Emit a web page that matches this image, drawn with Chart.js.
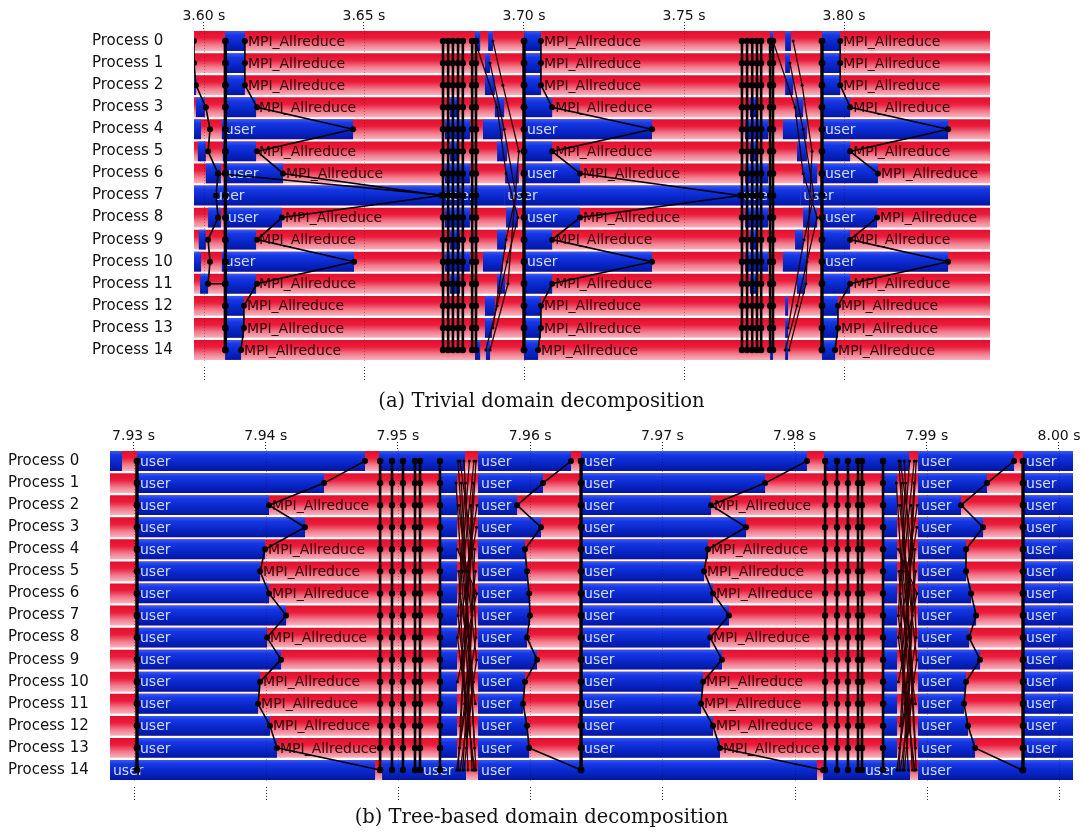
<!DOCTYPE html>
<html><head><meta charset="utf-8">
<script src="https://cdn.jsdelivr.net/npm/chart.js@4.4.1/dist/chart.umd.min.js"></script>
<style>
html,body{margin:0;padding:0;background:#fff;width:1083px;height:834px;overflow:hidden;}
canvas{position:absolute;left:0;}
.cap{position:absolute;left:0;width:1083px;text-align:center;font-family:'DejaVu Serif',serif;font-size:19.5px;color:#111;white-space:nowrap;}
</style></head><body>
<canvas id="chartA" width="1083" height="390" style="top:0"></canvas>
<canvas id="chartB" width="1083" height="390" style="top:420px"></canvas>
<div class="cap" style="top:389px">(a) Trivial domain decomposition</div>
<div class="cap" style="top:805px">(b) Tree-based domain decomposition</div>
<script>
// ---------- shared categories ----------
const processes = ['Process 0','Process 1','Process 2','Process 3','Process 4','Process 5','Process 6','Process 7',
  'Process 8','Process 9','Process 10','Process 11','Process 12','Process 13','Process 14'];

// ---------- panel (a): trivial domain decomposition ----------
const ticksA = [3.60, 3.65, 3.70, 3.75, 3.80];
const rangeA = [3.5969, 3.8456];
// "user" (blue) intervals per process; the remainder of each row is MPI (red)
const userA = [
  [[3.6066,3.6128],[3.6847,3.6863],[3.6888,3.6903],[3.7000,3.7053],[3.7769,3.7778],[3.7816,3.7834],[3.7931,3.7988]],
  [[3.6066,3.6128],[3.6878,3.6894],[3.7000,3.7053],[3.7816,3.7831],[3.7931,3.7988]],
  [[3.5969,3.5975],[3.6066,3.6128],[3.6878,3.6909],[3.7000,3.7053],[3.7816,3.7841],[3.7931,3.7988]],
  [[3.5975,3.6003],[3.6066,3.6163],[3.6769,3.6794],[3.6909,3.6938],[3.7000,3.7088],[3.7706,3.7728],[3.7847,3.7872],[3.7931,3.8019]],
  [[3.5969,3.5991],[3.6056,3.6466],[3.6753,3.6831],[3.6872,3.6934],[3.7000,3.7400],[3.7691,3.7763],[3.7809,3.7884],[3.7931,3.8325]],
  [[3.5981,3.6006],[3.6059,3.6163],[3.6769,3.6794],[3.6916,3.6947],[3.7000,3.7088],[3.7706,3.7728],[3.7853,3.7884],[3.7931,3.8019]],
  [[3.6006,3.6053],[3.6066,3.6247],[3.6753,3.6831],[3.6941,3.6984],[3.7000,3.7175],[3.7691,3.7763],[3.7872,3.7916],[3.7931,3.8106]],
  [[3.5969,3.6022],[3.6022,3.6741],[3.6741,3.6938],[3.6938,3.7675],[3.7675,3.7863],[3.7863,3.8456]],
  [[3.6013,3.6053],[3.6066,3.6244],[3.6753,3.6831],[3.6944,3.6981],[3.7000,3.7175],[3.7691,3.7763],[3.7872,3.7916],[3.7931,3.8103]],
  [[3.5984,3.6006],[3.6066,3.6163],[3.6769,3.6800],[3.6916,3.6944],[3.7000,3.7088],[3.7706,3.7728],[3.7847,3.7872],[3.7931,3.8019]],
  [[3.5969,3.5991],[3.6056,3.6469],[3.6753,3.6831],[3.6872,3.6934],[3.7000,3.7400],[3.7691,3.7763],[3.7809,3.7884],[3.7931,3.8325]],
  [[3.5988,3.6013],[3.6066,3.6163],[3.6769,3.6800],[3.6916,3.6941],[3.7000,3.7088],[3.7706,3.7728],[3.7853,3.7878],[3.7931,3.8019]],
  [[3.6069,3.6125],[3.6878,3.6909],[3.7000,3.7053],[3.7816,3.7825],[3.7931,3.7981]],
  [[3.6069,3.6125],[3.6878,3.6900],[3.7000,3.7053],[3.7816,3.7825],[3.7931,3.7981]],
  [[3.6066,3.6116],[3.6847,3.6863],[3.6881,3.6894],[3.7000,3.7044],[3.7769,3.7778],[3.7816,3.7825],[3.7931,3.7972]]
];
// function-name labels: [process, time]
const mpiLabelsA = [
  [0,3.6128],[0,3.7053],[0,3.7988],[1,3.6128],[1,3.7053],[1,3.7988],[2,3.6128],[2,3.7053],[2,3.7988],
  [3,3.6163],[3,3.7088],[3,3.8019],[5,3.6163],[5,3.7088],[5,3.8019],[6,3.6247],[6,3.7175],[6,3.8106],
  [8,3.6244],[8,3.7175],[8,3.8103],[9,3.6163],[9,3.7088],[9,3.8019],[11,3.6163],[11,3.7088],[11,3.8019],
  [12,3.6125],[12,3.7053],[12,3.7981],[13,3.6125],[13,3.7053],[13,3.7981],[14,3.6116],[14,3.7044],[14,3.7972]
];
const userLabelsA = [
  [4,3.6056],[4,3.7000],[4,3.7931],[6,3.6066],[6,3.7000],[6,3.7931],
  [7,3.6022],[7,3.6741],[7,3.6938],[7,3.7675],[7,3.7863],
  [8,3.6066],[8,3.7000],[8,3.7931],[10,3.6056],[10,3.7000],[10,3.7931]
];
// collective operations spanning all processes (times)
const collectivesA = [3.6067, 3.7000, 3.7931];
const clusterA = [3.6747,3.6763,3.6778,3.6794,3.6809,3.6838,3.6850,3.7681,3.7697,3.7713,3.7728,3.7741,3.7769,3.7778];
// message polylines: [time, process]
const wavesA = [
  [[3.5969,0],[3.5969,1],[3.5975,2],[3.6006,3],[3.6019,4],[3.6013,5],[3.6044,6],[3.6038,7],[3.6044,8],[3.6013,9],[3.6019,10],[3.6013,11],[3.6066,11]],
  [[3.6128,0],[3.6128,1],[3.6128,2],[3.6166,3],[3.6466,4],[3.6166,5],[3.6247,6],[3.6741,7],[3.6244,8],[3.6166,9],[3.6469,10],[3.6166,11],[3.6125,12],[3.6125,13],[3.6116,14]],
  [[3.7053,0],[3.7053,1],[3.7053,2],[3.7088,3],[3.7400,4],[3.7088,5],[3.7175,6],[3.7675,7],[3.7175,8],[3.7088,9],[3.7400,10],[3.7088,11],[3.7053,12],[3.7053,13],[3.7044,14]],
  [[3.7988,0],[3.7988,1],[3.7988,2],[3.8019,3],[3.8325,4],[3.8019,5],[3.8106,6]],
  [[3.8103,8],[3.8019,9],[3.8325,10],[3.8019,11],[3.7981,12],[3.7981,13],[3.7972,14]],
  [[3.6044,6],[3.6753,7]]
];
const crossA = [
  [[3.6847,0],[3.6916,3],[3.6944,6],[3.6981,8],[3.6947,10],[3.6916,12],[3.6881,14]],
  [[3.6894,1],[3.6938,4],[3.6975,7],[3.6944,9],[3.6903,13]],
  [[3.6903,0],[3.6934,2],[3.6984,5],[3.6950,11],[3.6894,14]],
  [[3.7778,0],[3.7847,3],[3.7872,6],[3.7916,8],[3.7884,10],[3.7853,12],[3.7816,14]],
  [[3.7831,1],[3.7872,4],[3.7906,7],[3.7875,9],[3.7825,13]],
  [[3.7841,0],[3.7869,2],[3.7900,5],[3.7881,11],[3.7828,14]]
];

// ---------- panel (b): tree-based domain decomposition ----------
const ticksB = [7.93, 7.94, 7.95, 7.96, 7.97, 7.98, 7.99, 8.00];
const rangeB = [7.92822, 8.00106];
const userB = [
  [[7.92822,7.92913],[7.93026,7.94751],[7.94857,7.95507],[7.95606,7.96309],[7.96385,7.98094],[7.98223,7.98866],[7.98934,7.99660],[7.99728,8.00106]],
  [[7.93026,7.94441],[7.95318,7.95447],[7.95606,7.96097],[7.96385,7.97777],[7.98669,7.98775],[7.98934,7.99456],[7.99728,8.00106]],
  [[7.93026,7.94025],[7.95318,7.95447],[7.95606,7.95901],[7.96385,7.97368],[7.98669,7.98775],[7.98934,7.99259],[7.99728,8.00106]],
  [[7.93026,7.94297],[7.95318,7.95447],[7.95606,7.96082],[7.96385,7.97633],[7.98669,7.98775],[7.98934,7.99426],[7.99728,8.00106]],
  [[7.93026,7.93995],[7.95318,7.95447],[7.95606,7.95961],[7.96385,7.97345],[7.98669,7.98775],[7.98934,7.99297],[7.99728,8.00106]],
  [[7.93026,7.93957],[7.95318,7.95447],[7.95606,7.95976],[7.96385,7.97315],[7.98669,7.98775],[7.98934,7.99297],[7.99728,8.00106]],
  [[7.93026,7.94025],[7.95318,7.95447],[7.95606,7.95992],[7.96385,7.97383],[7.98669,7.98775],[7.98934,7.99335],[7.99728,8.00106]],
  [[7.93026,7.94154],[7.95318,7.95447],[7.95606,7.95999],[7.96385,7.97504],[7.98669,7.98775],[7.98934,7.99373],[7.99728,8.00106]],
  [[7.93026,7.94010],[7.95318,7.95447],[7.95606,7.95976],[7.96385,7.97361],[7.98669,7.98775],[7.98934,7.99320],[7.99728,8.00106]],
  [[7.93026,7.94116],[7.95318,7.95447],[7.95606,7.96052],[7.96385,7.97451],[7.98669,7.98775],[7.98934,7.99403],[7.99728,8.00106]],
  [[7.93026,7.93957],[7.95318,7.95447],[7.95606,7.95961],[7.96385,7.97308],[7.98669,7.98775],[7.98934,7.99297],[7.99728,8.00106]],
  [[7.93026,7.93942],[7.95318,7.95447],[7.95606,7.95946],[7.96385,7.97293],[7.98669,7.98775],[7.98934,7.99282],[7.99728,8.00106]],
  [[7.93026,7.94032],[7.95318,7.95447],[7.95606,7.95976],[7.96385,7.97383],[7.98669,7.98775],[7.98934,7.99312],[7.99728,8.00106]],
  [[7.93026,7.94085],[7.95318,7.95447],[7.95606,7.95992],[7.96385,7.97436],[7.98669,7.98775],[7.98934,7.99365],[7.99728,8.00106]],
  [[7.92822,7.94827],[7.94880,7.95167],[7.95167,7.95515],[7.95606,7.98170],[7.98216,7.98510],[7.98510,7.98873],[7.98934,8.00106]]
];
const mpiLabelsB = [
  [2,7.94025],[4,7.93995],[5,7.93957],[6,7.94025],[8,7.94010],[10,7.93957],[11,7.93942],[12,7.94032],[13,7.94085],
  [2,7.97368],[4,7.97345],[5,7.97315],[6,7.97383],[8,7.97361],[10,7.97308],[11,7.97293],[12,7.97383],[13,7.97436]
];
const userLabelsB = [
  [0,7.93026],[0,7.95606],[0,7.96385],[0,7.98934],[0,7.99728],
  [1,7.93026],[1,7.95606],[1,7.96385],[1,7.98934],[1,7.99728],
  [2,7.93026],[2,7.95606],[2,7.96385],[2,7.98934],[2,7.99728],
  [3,7.93026],[3,7.95606],[3,7.96385],[3,7.98934],[3,7.99728],
  [4,7.93026],[4,7.95606],[4,7.96385],[4,7.98934],[4,7.99728],
  [5,7.93026],[5,7.95606],[5,7.96385],[5,7.98934],[5,7.99728],
  [6,7.93026],[6,7.95606],[6,7.96385],[6,7.98934],[6,7.99728],
  [7,7.93026],[7,7.95606],[7,7.96385],[7,7.98934],[7,7.99728],
  [8,7.93026],[8,7.95606],[8,7.96385],[8,7.98934],[8,7.99728],
  [9,7.93026],[9,7.95606],[9,7.96385],[9,7.98934],[9,7.99728],
  [10,7.93026],[10,7.95606],[10,7.96385],[10,7.98934],[10,7.99728],
  [11,7.93026],[11,7.95606],[11,7.96385],[11,7.98934],[11,7.99728],
  [12,7.93026],[12,7.95606],[12,7.96385],[12,7.98934],[12,7.99728],
  [13,7.93026],[13,7.95606],[13,7.96385],[13,7.98934],[13,7.99728],
  [14,7.92822],[14,7.95167],[14,7.95606],[14,7.98510],[14,7.98934]
];
const collectivesB = [7.93026, 7.96385, 7.99728];
const clusterB = [7.94865,7.94955,7.95038,7.95129,7.95167,7.95318,7.98231,7.98321,7.98404,7.98480,7.98510,7.98669];
const wavesB = [
  [[7.94751,0],[7.94441,1],[7.94025,2],[7.94297,3],[7.93995,4],[7.93957,5],[7.94025,6],[7.94154,7],[7.94010,8],[7.94116,9],[7.93957,10],[7.93942,11],[7.94032,12],[7.94085,13],[7.94865,14]],
  [[7.96309,0],[7.96097,1],[7.95901,2],[7.96082,3],[7.95961,4],[7.95976,5],[7.95992,6],[7.95999,7],[7.95976,8],[7.96052,9],[7.95961,10],[7.95946,11],[7.95976,12],[7.95992,13],[7.96385,14]],
  [[7.98094,0],[7.97777,1],[7.97368,2],[7.97633,3],[7.97345,4],[7.97315,5],[7.97383,6],[7.97504,7],[7.97361,8],[7.97451,9],[7.97308,10],[7.97293,11],[7.97383,12],[7.97436,13],[7.98216,14]],
  [[7.99660,0],[7.99456,1],[7.99259,2],[7.99426,3],[7.99297,4],[7.99297,5],[7.99335,6],[7.99373,7],[7.99320,8],[7.99403,9],[7.99297,10],[7.99282,11],[7.99312,12],[7.99365,13],[7.99721,14]]
];
const crossB = [
  [[7.95455,0],[7.95590,14]],[[7.95590,0],[7.95455,14]],[[7.95480,1],[7.95580,13]],[[7.95570,1],[7.95470,12]],
  [[7.95460,2],[7.95595,9],[7.95470,14]],[[7.95595,3],[7.95450,8],[7.95580,14]],[[7.95500,0],[7.95560,7],[7.95490,14]],
  [[7.95540,0],[7.95470,6],[7.95585,11]],[[7.95450,4],[7.95595,6],[7.95450,10]],[[7.95520,5],[7.95598,2]],
  [[7.95530,14],[7.95460,5]],[[7.95580,4],[7.95520,13]],
  [[7.95470,0],[7.95560,4],[7.95480,9],[7.95575,14]],[[7.95575,0],[7.95490,5],[7.95570,10],[7.95500,14]],
  [[7.95510,1],[7.95455,7],[7.95540,12]],[[7.95550,2],[7.95590,8],[7.95465,13]],
  [[7.95440,1],[7.95530,10],[7.95560,14]],[[7.95585,5],[7.95505,11],[7.95445,14]],
  [[7.98790,0],[7.98920,14]],[[7.98920,0],[7.98790,14]],[[7.98810,1],[7.98915,13]],[[7.98905,1],[7.98800,12]],
  [[7.98795,2],[7.98925,9],[7.98800,14]],[[7.98925,3],[7.98785,8],[7.98910,14]],[[7.98830,0],[7.98890,7],[7.98820,14]],
  [[7.98870,0],[7.98800,6],[7.98915,11]],[[7.98785,4],[7.98925,6],[7.98785,10]],[[7.98850,5],[7.98928,2]],
  [[7.98860,14],[7.98790,5]],[[7.98910,4],[7.98850,13]],
  [[7.98800,0],[7.98890,4],[7.98810,9],[7.98905,14]],[[7.98905,0],[7.98820,5],[7.98900,10],[7.98830,14]],
  [[7.98840,1],[7.98785,7],[7.98870,12]],[[7.98880,2],[7.98920,8],[7.98795,13]],
  [[7.98770,1],[7.98860,10],[7.98890,14]],[[7.98915,5],[7.98835,11],[7.98775,14]]
];

// ---------- rendering ----------
Chart.defaults.font.family = "'DejaVu Sans', sans-serif";
Chart.defaults.font.size = 14;

function rowGradient(ctx, stops) {
  const chart = ctx.chart;
  if (!chart.chartArea || !ctx.raw) return stops[1][1];
  const ys = chart.scales.y;
  const r = processes.indexOf(ctx.raw.y);
  const yc = ys.getPixelForValue(r);
  const h = ys.height / processes.length * 0.9 / 2;
  const g = chart.ctx.createLinearGradient(0, yc - h, 0, yc + h);
  stops.forEach(s => g.addColorStop(s[0], s[1]));
  return g;
}
const redStops = [[0,'#e40f2c'],[0.35,'#ea1d3c'],[0.7,'#f27a8c'],[1,'#f7b2be']];
const blueStops = [[0,'#3a58f2'],[0.2,'#1637e4'],[0.6,'#0826c8'],[1,'#0316a0']];

function lineDS(points, width, radius, color) {
  return {
    type: 'line', order: 1,
    data: points.map(p => ({x: p[0], y: processes[p[1]]})),
    borderColor: color, backgroundColor: '#000', borderWidth: width,
    pointRadius: radius, pointBackgroundColor: '#000', pointBorderWidth: 0, pointHoverRadius: 0,
    fill: false, tension: 0
  };
}

const panelCfg = {};
const overlayPlugin = {
  id: 'overlay',
  afterDatasetDraw(chart, args) {
    const ds = chart.data.datasets[args.index];
    if (ds.label !== 'user') return;
    const cfg = panelCfg[chart.canvas.id];
    const c = chart.ctx, a = chart.chartArea, xs = chart.scales.x, ys = chart.scales.y;
    c.save();
    c.beginPath(); c.rect(a.left, a.top, a.right - a.left, a.bottom - a.top); c.clip();
    c.strokeStyle = 'rgba(50,0,0,0.35)'; c.lineWidth = 1; c.setLineDash([1, 2]);
    cfg.ticks.forEach(v => {
      const x = Math.round(xs.getPixelForValue(v)) + 0.5;
      c.beginPath(); c.moveTo(x, a.top); c.lineTo(x, a.bottom); c.stroke();
    });
    c.setLineDash([]);
    c.font = "14px 'DejaVu Sans'"; c.textBaseline = 'middle'; c.textAlign = 'left';
    c.fillStyle = '#2e0606';
    cfg.mpi.forEach(l => c.fillText('MPI_Allreduce', xs.getPixelForValue(l[1]) + 3, ys.getPixelForValue(l[0]) + 1));
    c.fillStyle = '#d6dbf2';
    cfg.user.forEach(l => c.fillText('user', xs.getPixelForValue(l[1]) + 3, ys.getPixelForValue(l[0]) + 1));
    c.restore();
  },
  afterDraw(chart) {
    const cfg = panelCfg[chart.canvas.id];
    const c = chart.ctx, a = chart.chartArea, xs = chart.scales.x;
    c.save();
    c.strokeStyle = '#333'; c.lineWidth = 1; c.setLineDash([1, 2]);
    cfg.ticks.forEach(v => {
      const x = Math.round(xs.getPixelForValue(v)) + 0.5;
      c.beginPath(); c.moveTo(x, a.bottom + 6); c.lineTo(x, a.bottom + 19); c.stroke();
    });
    c.restore();
  }
};

function makePanel(id, o) {
  panelCfg[id] = {ticks: o.ticks, mpi: o.mpi, user: o.user};
  const redData = processes.map(p => ({y: p, x: [o.range[0], o.range[1]]}));
  const blueData = [];
  o.userSegs.forEach((segs, r) => segs.forEach(s => blueData.push({y: processes[r], x: [s[0], s[1]]})));
  const datasets = [
    {type: 'bar', label: 'MPI', data: redData, order: 3, grouped: false, barPercentage: 0.9, categoryPercentage: 1,
     borderWidth: 0, backgroundColor: ctx => rowGradient(ctx, redStops)},
    {type: 'bar', label: 'user', data: blueData, order: 2, grouped: false, barPercentage: 0.9, categoryPercentage: 1,
     borderWidth: 0, backgroundColor: ctx => rowGradient(ctx, blueStops)}
  ];
  o.cross.forEach(p => datasets.push(lineDS(p, 1.3, 1.5, '#2a0000')));
  o.waves.forEach(p => datasets.push(lineDS(p, 1.6, 3, '#000')));
  o.cluster.forEach(t => datasets.push(lineDS(processes.map((_, r) => [t, r]), 2.6, 3.2, '#000')));
  o.collectives.forEach(t => datasets.push(lineDS(processes.map((_, r) => [t, r]), 3.4, 3.4, '#000')));

  new Chart(document.getElementById(id), {
    type: 'bar',
    data: {labels: processes, datasets},
    options: {
      indexAxis: 'y', responsive: false, animation: false, devicePixelRatio: 1, events: [],
      layout: {padding: {left: o.padLeft, right: o.padRight, top: 0, bottom: o.padBottom}},
      plugins: {legend: {display: false}, tooltip: {enabled: false}},
      scales: {
        x: {
          type: 'linear', position: 'top', min: o.range[0], max: o.range[1],
          afterBuildTicks: s => { s.ticks = o.ticks.map(v => ({value: v})); },
          afterFit: s => { s.height = 30; },
          ticks: {autoSkip: false, maxRotation: 0, padding: -3, color: '#111', font: {size: 14},
                  callback: v => Number(v).toFixed(2) + ' s'},
          grid: {drawOnChartArea: false, drawTicks: true, tickLength: 8, tickColor: '#333', tickWidth: 1, tickBorderDash: [1, 2]},
          border: {display: false}
        },
        y: {
          type: 'category', labels: processes, offset: true,
          afterFit: s => { s.width = 102; },
          ticks: {crossAlign: 'far', padding: 0, color: '#111', font: {size: 15}},
          grid: {display: false, offset: true},
          border: {display: false}
        }
      }
    },
    plugins: [overlayPlugin]
  });
}

makePanel('chartA', {range: rangeA, ticks: ticksA, userSegs: userA, mpi: mpiLabelsA, user: userLabelsA,
  collectives: collectivesA, cluster: clusterA, waves: wavesA, cross: crossA, padLeft: 92, padRight: 93, padBottom: 29});
makePanel('chartB', {range: rangeB, ticks: ticksB, userSegs: userB, mpi: mpiLabelsB, user: userLabelsB,
  collectives: collectivesB, cluster: clusterB, waves: wavesB, cross: crossB, padLeft: 8, padRight: 10, padBottom: 29});
</script>
</body></html>
